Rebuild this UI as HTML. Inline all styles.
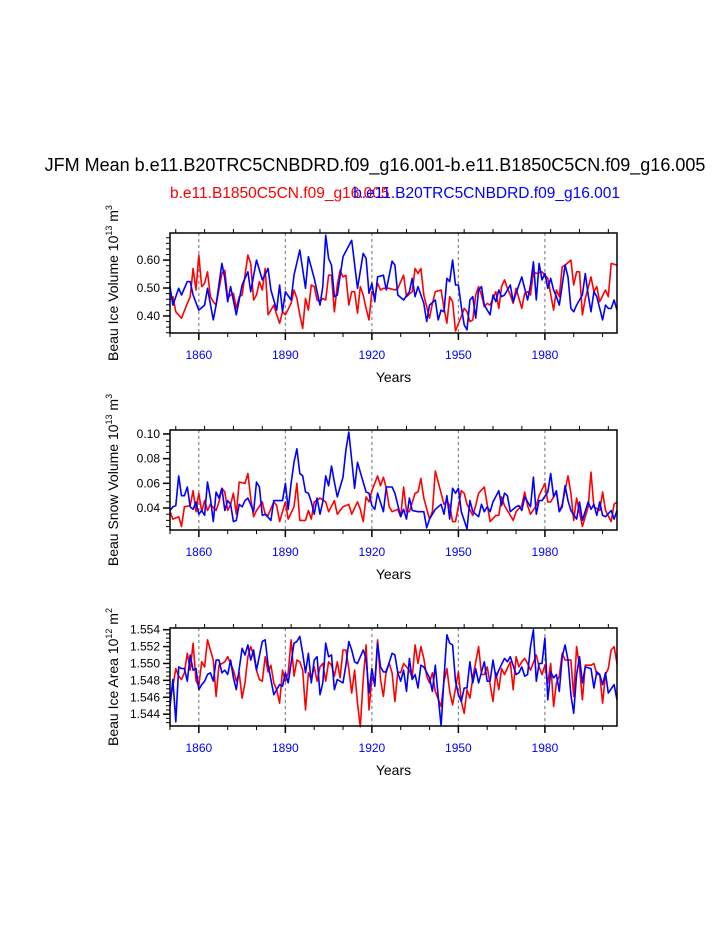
<!DOCTYPE html>
<html><head><meta charset="utf-8"><style>
html,body{margin:0;padding:0;background:#fff;}
svg{display:block;font-family:"Liberation Sans",Arial,sans-serif;}
</style></head><body>
<svg id="chart" width="723" height="935" viewBox="0 0 723 935" xmlns="http://www.w3.org/2000/svg">
<text x="375" y="171" font-size="18" text-anchor="middle">JFM Mean b.e11.B20TRC5CNBDRD.f09_g16.001-b.e11.B1850C5CN.f09_g16.005</text>
<text x="170" y="198" font-size="15.5" fill="#ff0000">b.e11.B1850C5CN.f09_g16.005</text>
<text x="620" y="198" font-size="15.5" fill="#0000ff" text-anchor="end">b.e11.B20TRC5CNBDRD.f09_g16.001</text>
<g id="plots"></g>
</svg>
<script>
// Panel 1: Beau Ice Volume
const p1BlueYears=[1850,1851,1853,1854,1856,1857,1858,1860,1862,1863,1865,1866,1868,1869,1870,1871,1873,1875,1877,1878,1880,1882,1884,1885,1887,1888,1889,1890,1892,1893,1895,1897,1898,1900,1902,1903,1904,1905,1906,1907,1908,1910,1913,1915,1917,1918,1919,1920,1921,1922,1924,1925,1927,1928,1929,1931,1933,1934,1935,1936,1938,1939,1940,1942,1943,1944,1945,1946,1947,1948,1949,1950,1951,1952,1953,1954,1955,1956,1957,1958,1959,1961,1962,1963,1964,1965,1966,1968,1969,1971,1972,1974,1975,1976,1977,1978,1979,1980,1981,1982,1983,1984,1985,1987,1988,1989,1990,1991,1993,1994,1995,1996,1997,1998,2000,2001,2002,2003,2004,2005];
const p1BlueVals=[0.505,0.439,0.499,0.475,0.523,0.523,0.475,0.421,0.439,0.499,0.386,0.439,0.588,0.535,0.451,0.505,0.404,0.511,0.558,0.487,0.600,0.529,0.570,0.493,0.421,0.511,0.415,0.487,0.457,0.546,0.636,0.499,0.612,0.535,0.439,0.505,0.689,0.606,0.582,0.469,0.475,0.612,0.671,0.499,0.624,0.606,0.481,0.517,0.451,0.540,0.546,0.493,0.596,0.582,0.475,0.457,0.487,0.535,0.469,0.505,0.445,0.380,0.439,0.457,0.386,0.421,0.415,0.535,0.523,0.600,0.511,0.511,0.433,0.368,0.350,0.457,0.469,0.392,0.493,0.505,0.439,0.404,0.475,0.451,0.493,0.469,0.475,0.511,0.451,0.511,0.540,0.457,0.511,0.594,0.457,0.588,0.529,0.552,0.499,0.535,0.493,0.469,0.439,0.582,0.540,0.427,0.415,0.439,0.475,0.552,0.475,0.415,0.487,0.469,0.386,0.439,0.427,0.427,0.457,0.421];
const p1RedYears=[1850,1851,1852,1854,1856,1857,1858,1859,1860,1861,1862,1863,1864,1865,1866,1868,1869,1870,1871,1872,1873,1874,1875,1876,1877,1878,1879,1880,1881,1882,1883,1884,1885,1886,1887,1888,1889,1890,1892,1893,1894,1895,1896,1897,1898,1899,1900,1901,1902,1903,1904,1905,1906,1907,1908,1909,1910,1911,1912,1913,1914,1915,1916,1917,1918,1919,1920,1921,1922,1923,1924,1926,1928,1929,1931,1932,1934,1935,1936,1937,1938,1940,1941,1942,1944,1945,1946,1947,1948,1949,1951,1952,1953,1954,1955,1956,1957,1958,1959,1960,1961,1963,1964,1965,1966,1967,1968,1969,1970,1972,1973,1974,1975,1976,1977,1979,1980,1981,1983,1984,1985,1986,1987,1989,1990,1991,1992,1993,1994,1996,1997,1998,1999,2001,2002,2003,2005];
const p1RedVals=[0.457,0.469,0.415,0.392,0.445,0.469,0.570,0.493,0.618,0.505,0.517,0.558,0.469,0.451,0.439,0.552,0.564,0.463,0.475,0.481,0.427,0.469,0.475,0.546,0.618,0.588,0.457,0.475,0.523,0.493,0.570,0.404,0.421,0.439,0.404,0.374,0.415,0.404,0.445,0.493,0.463,0.404,0.356,0.463,0.421,0.511,0.505,0.457,0.451,0.463,0.457,0.546,0.546,0.415,0.511,0.564,0.540,0.546,0.439,0.487,0.487,0.410,0.505,0.475,0.427,0.386,0.487,0.469,0.517,0.493,0.499,0.499,0.493,0.499,0.546,0.469,0.487,0.570,0.552,0.570,0.475,0.392,0.445,0.487,0.493,0.427,0.374,0.469,0.451,0.346,0.398,0.427,0.415,0.380,0.386,0.475,0.505,0.475,0.433,0.445,0.439,0.487,0.427,0.505,0.529,0.499,0.475,0.445,0.499,0.427,0.481,0.487,0.475,0.558,0.552,0.558,0.546,0.535,0.421,0.493,0.469,0.576,0.582,0.600,0.511,0.558,0.558,0.404,0.463,0.540,0.487,0.505,0.451,0.493,0.469,0.588,0.582];
// Panel 2: Beau Snow Volume
const p2BlueYears=[1850,1851,1852,1853,1854,1855,1856,1857,1858,1859,1860,1861,1862,1863,1864,1865,1866,1867,1868,1869,1870,1871,1872,1873,1874,1875,1876,1877,1879,1880,1881,1882,1883,1885,1886,1888,1889,1890,1891,1892,1893,1894,1895,1896,1897,1898,1899,1900,1901,1902,1903,1904,1905,1906,1907,1908,1910,1911,1912,1913,1914,1915,1916,1918,1919,1920,1921,1922,1924,1925,1927,1928,1930,1931,1932,1933,1934,1936,1938,1939,1940,1942,1944,1945,1946,1947,1948,1949,1950,1951,1952,1953,1954,1955,1957,1958,1959,1960,1961,1962,1964,1965,1966,1967,1968,1970,1971,1972,1973,1975,1976,1977,1978,1979,1981,1982,1983,1984,1985,1986,1987,1988,1989,1991,1992,1993,1995,1996,1997,1998,1999,2000,2001,2003,2004,2005];
const p2BlueVals=[0.038,0.041,0.042,0.066,0.050,0.050,0.057,0.041,0.039,0.045,0.035,0.038,0.034,0.061,0.048,0.029,0.053,0.048,0.056,0.038,0.046,0.043,0.029,0.030,0.043,0.041,0.046,0.048,0.037,0.061,0.057,0.034,0.035,0.030,0.046,0.046,0.046,0.060,0.039,0.060,0.077,0.088,0.068,0.066,0.053,0.052,0.045,0.035,0.048,0.035,0.045,0.066,0.058,0.074,0.061,0.049,0.065,0.087,0.1015,0.079,0.056,0.077,0.069,0.053,0.052,0.042,0.039,0.052,0.037,0.057,0.057,0.052,0.033,0.039,0.031,0.048,0.038,0.037,0.037,0.024,0.031,0.039,0.043,0.035,0.050,0.031,0.056,0.052,0.056,0.037,0.030,0.023,0.046,0.037,0.033,0.043,0.037,0.041,0.037,0.045,0.054,0.042,0.052,0.050,0.037,0.041,0.042,0.038,0.049,0.041,0.065,0.035,0.046,0.046,0.053,0.068,0.049,0.054,0.037,0.041,0.058,0.046,0.038,0.031,0.045,0.030,0.045,0.039,0.043,0.034,0.045,0.034,0.033,0.038,0.031,0.038];
const p2RedYears=[1850,1851,1853,1854,1855,1857,1858,1859,1860,1861,1862,1863,1864,1866,1867,1868,1869,1870,1871,1872,1873,1874,1876,1877,1878,1879,1880,1882,1883,1884,1886,1887,1888,1890,1891,1893,1894,1895,1897,1898,1899,1900,1902,1904,1905,1907,1908,1910,1912,1913,1915,1916,1917,1918,1919,1920,1922,1923,1924,1925,1926,1927,1929,1930,1931,1932,1933,1935,1936,1937,1938,1940,1941,1942,1943,1945,1946,1947,1948,1949,1951,1952,1953,1955,1956,1957,1959,1960,1961,1963,1964,1965,1966,1968,1969,1970,1972,1973,1974,1975,1977,1978,1980,1981,1982,1984,1985,1986,1988,1989,1990,1991,1993,1995,1996,1997,1999,2000,2001,2003,2004,2005];
const p2RedVals=[0.037,0.031,0.033,0.025,0.041,0.042,0.054,0.037,0.052,0.037,0.046,0.038,0.043,0.038,0.045,0.056,0.053,0.038,0.043,0.052,0.035,0.061,0.060,0.068,0.048,0.033,0.038,0.045,0.035,0.034,0.045,0.042,0.029,0.045,0.031,0.041,0.060,0.030,0.030,0.038,0.031,0.045,0.048,0.045,0.037,0.046,0.035,0.041,0.043,0.035,0.045,0.039,0.029,0.049,0.045,0.054,0.066,0.058,0.065,0.056,0.041,0.037,0.039,0.033,0.057,0.037,0.037,0.052,0.053,0.064,0.048,0.031,0.037,0.070,0.061,0.043,0.046,0.042,0.029,0.029,0.054,0.052,0.043,0.034,0.042,0.052,0.057,0.043,0.029,0.034,0.034,0.049,0.042,0.034,0.030,0.037,0.042,0.053,0.042,0.035,0.042,0.050,0.060,0.045,0.045,0.053,0.037,0.043,0.066,0.052,0.030,0.048,0.025,0.041,0.069,0.041,0.038,0.053,0.038,0.029,0.043,0.045];
// Panel 3: Beau Ice Area
const p3BlueYears=[1850,1851,1852,1853,1854,1855,1856,1857,1858,1859,1860,1861,1862,1863,1864,1865,1866,1867,1868,1869,1870,1871,1872,1873,1875,1876,1877,1878,1879,1880,1882,1883,1884,1885,1886,1888,1889,1890,1891,1893,1894,1895,1896,1897,1898,1899,1900,1901,1902,1903,1904,1905,1906,1907,1908,1910,1911,1912,1913,1914,1915,1917,1918,1919,1920,1921,1922,1923,1924,1925,1927,1928,1929,1930,1931,1932,1933,1934,1935,1936,1937,1938,1940,1941,1942,1943,1944,1945,1946,1947,1948,1949,1950,1951,1952,1953,1954,1955,1956,1957,1959,1960,1961,1962,1963,1964,1966,1967,1968,1970,1971,1972,1973,1974,1975,1976,1977,1978,1979,1980,1981,1982,1983,1984,1985,1986,1987,1988,1989,1990,1991,1992,1993,1994,1996,1997,1998,1999,2000,2001,2002,2004,2005];
const p3BlueVals=[1.5449,1.5481,1.5431,1.5496,1.5494,1.5494,1.5479,1.5510,1.5492,1.5494,1.5469,1.5475,1.5479,1.5487,1.5489,1.5479,1.5504,1.5504,1.5489,1.5492,1.5487,1.5504,1.5483,1.5469,1.5518,1.5510,1.5522,1.5504,1.5516,1.5492,1.5526,1.5528,1.5498,1.5481,1.5463,1.5475,1.5473,1.5489,1.5477,1.5524,1.5526,1.5532,1.5512,1.5489,1.5512,1.5477,1.5504,1.5508,1.5463,1.5477,1.5524,1.5508,1.5510,1.5469,1.5481,1.5477,1.5498,1.5526,1.5516,1.5502,1.5500,1.5516,1.5506,1.5465,1.5494,1.5473,1.5524,1.5496,1.5490,1.5490,1.5512,1.5510,1.5489,1.5479,1.5492,1.5467,1.5506,1.5481,1.5487,1.5471,1.5498,1.5496,1.5483,1.5467,1.5498,1.5461,1.5426,1.5483,1.5534,1.5524,1.5522,1.5479,1.5463,1.5455,1.5471,1.5471,1.5502,1.5477,1.5494,1.5477,1.5502,1.5479,1.5479,1.5504,1.5483,1.5492,1.5506,1.5502,1.5508,1.5487,1.5489,1.5496,1.5485,1.5487,1.5520,1.5540,1.5479,1.5500,1.5500,1.5530,1.5457,1.5490,1.5483,1.5487,1.5467,1.5508,1.5522,1.5504,1.5463,1.5441,1.5487,1.5508,1.5477,1.5496,1.5494,1.5471,1.5490,1.5487,1.5475,1.5489,1.5465,1.5475,1.5457];
const p3RedYears=[1850,1851,1852,1853,1854,1855,1856,1857,1858,1859,1860,1861,1862,1863,1864,1865,1866,1867,1868,1869,1870,1871,1872,1873,1874,1875,1876,1877,1878,1879,1880,1881,1882,1883,1884,1885,1886,1887,1888,1889,1890,1891,1892,1893,1894,1895,1896,1897,1898,1899,1900,1901,1902,1903,1904,1905,1906,1907,1908,1909,1910,1911,1912,1913,1914,1915,1916,1917,1918,1919,1920,1921,1922,1923,1924,1925,1926,1927,1928,1929,1930,1931,1932,1933,1934,1935,1936,1937,1938,1939,1940,1941,1942,1944,1945,1946,1947,1948,1950,1951,1952,1953,1954,1955,1957,1958,1959,1960,1962,1963,1964,1965,1966,1968,1969,1970,1971,1972,1973,1974,1975,1977,1978,1979,1980,1981,1982,1983,1984,1985,1986,1987,1989,1990,1991,1992,1993,1994,1996,1997,1998,1999,2000,2001,2002,2003,2004,2005];
const p3RedVals=[1.5457,1.5473,1.5494,1.5485,1.5481,1.5489,1.5512,1.5492,1.5524,1.5480,1.5473,1.5502,1.5496,1.5528,1.5516,1.5504,1.5461,1.5498,1.5500,1.5502,1.5508,1.5500,1.5492,1.5479,1.5489,1.5459,1.5477,1.5508,1.5520,1.5510,1.5492,1.5481,1.5479,1.5508,1.5490,1.5498,1.5477,1.5469,1.5453,1.5492,1.5479,1.5489,1.5528,1.5485,1.5504,1.5502,1.5492,1.5445,1.5489,1.5481,1.5496,1.5479,1.5496,1.5500,1.5479,1.5502,1.5498,1.5485,1.5502,1.5483,1.5516,1.5516,1.5494,1.5465,1.5492,1.5453,1.5425,1.5481,1.5522,1.5445,1.5483,1.5477,1.5528,1.5481,1.5461,1.5492,1.5500,1.5489,1.5455,1.5490,1.5489,1.5500,1.5496,1.5492,1.5483,1.5522,1.5500,1.5520,1.5506,1.5485,1.5477,1.5489,1.5467,1.5449,1.5479,1.5494,1.5467,1.5451,1.5490,1.5455,1.5441,1.5469,1.5459,1.5483,1.5520,1.5487,1.5487,1.5496,1.5455,1.5489,1.5469,1.5494,1.5487,1.5502,1.5469,1.5508,1.5496,1.5502,1.5506,1.5500,1.5492,1.5510,1.5496,1.5487,1.5498,1.5477,1.5500,1.5449,1.5477,1.5485,1.5512,1.5504,1.5504,1.5461,1.5520,1.5496,1.5457,1.5498,1.5498,1.5500,1.5487,1.5487,1.5453,1.5487,1.5494,1.5516,1.5520,1.5500];

const bottomTicks=[1860,1890,1920,1950,1980];
const topTicks=[420,450,480,510,540];
const p1YTicks=[0.40,0.50,0.60];
const p2YTicks=[0.04,0.06,0.08,0.10];
const p3YTicks=[1.544,1.546,1.548,1.550,1.552,1.554];

const NS='http://www.w3.org/2000/svg';
const root=document.getElementById('plots');
function mk(tag,attrs,parent){const e=document.createElementNS(NS,tag);for(const k in attrs)e.setAttribute(k,attrs[k]);(parent||root).appendChild(e);return e;}
const X0=170,X1=617,YR0=1850,YR1=2005,TOPOFF=1448;
function xs(yr){return X0+(yr-YR0)*(X1-X0)/(YR1-YR0);}

const panels=[
 {key:'ice-volume',top:233,bot:333,ymin:0.339,ymax:0.697,ticks:p1YTicks,dec:2,minor:0.02,title:'Beau Ice Volume 10',exp1:'13',unit:' m',exp2:'3',blueY:p1BlueYears,blueV:p1BlueVals,redY:p1RedYears,redV:p1RedVals},
 {key:'snow-volume',top:430,bot:530,ymin:0.0222,ymax:0.1032,ticks:p2YTicks,dec:2,minor:0.005,title:'Beau Snow Volume 10',exp1:'13',unit:' m',exp2:'3',blueY:p2BlueYears,blueV:p2BlueVals,redY:p2RedYears,redV:p2RedVals},
 {key:'ice-area',top:628,bot:726,ymin:1.5426,ymax:1.5542,ticks:p3YTicks,dec:3,minor:0.0005,title:'Beau Ice Area 10',exp1:'12',unit:' m',exp2:'2',blueY:p3BlueYears,blueV:p3BlueVals,redY:p3RedYears,redV:p3RedVals}
];

panels.forEach(p=>{
 const g=mk('g',{});
 
 
 const ys=v=>p.bot-(v-p.ymin)*(p.bot-p.top)/(p.ymax-p.ymin);
 bottomTicks.forEach(t=>{
  const l=mk('line',{x1:xs(t),x2:xs(t),y1:p.top,y2:p.bot,stroke:'#888','stroke-width':1.2,'stroke-dasharray':'3,3'},g);
  
  
 });
 [['red',p.redY,p.redV,'#ff0000'],['blue',p.blueY,p.blueV,'#0000ff']].forEach(s=>{
  const d=s[1].map((yr,i)=>(i?'L':'M')+xs(yr).toFixed(1)+','+ys(s[2][i]).toFixed(1)).join('');
  const path=mk('path',{d:d,fill:'none',stroke:s[3],'stroke-width':1.6,'stroke-linejoin':'round'},g);
  
  
 });
 const fr=mk('rect',{x:X0,y:p.top,width:X1-X0,height:p.bot-p.top,fill:'none',stroke:'#000','stroke-width':1.5},g);
 
 
 for(let yr=1850;yr<=2005;yr+=10){
  const x=xs(yr),major=bottomTicks.includes(yr);const L=major?7:4;
  mk('line',{x1:x,x2:x,y1:p.bot,y2:p.bot+L,stroke:'#000','stroke-width':major?1.5:1},g);
 }
 for(let yr=1852;yr<=2005;yr+=10){
  const x=xs(yr),major=topTicks.includes(yr+TOPOFF);const L=major?7:4;
  mk('line',{x1:x,x2:x,y1:p.top,y2:p.top-L,stroke:'#000','stroke-width':major?1.5:1},g);
 }
 bottomTicks.forEach(t=>{
  const tx=mk('text',{x:xs(t),y:p.bot+26,'font-size':12,'text-anchor':'middle',fill:'#0000ff'},g);
  tx.textContent=t;
  
  
 });
 topTicks.forEach(t=>{
  const tx=mk('text',{x:xs(t-TOPOFF),y:p.top-16,'font-size':12,'text-anchor':'middle',fill:'#ff0000'},g);
  tx.textContent=t;
  
  
 });
 for(let v=Math.ceil(p.ymin/p.minor)*p.minor;v<=p.ymax;v+=p.minor){
  const y=ys(v);mk('line',{x1:X0,x2:X0-4,y1:y,y2:y,stroke:'#000','stroke-width':1},g);
 }
 p.ticks.forEach(t=>{
  const y=ys(t);
  mk('line',{x1:X0,x2:X0-7,y1:y,y2:y,stroke:'#000','stroke-width':1.5},g);
  const tx=mk('text',{x:X0-10,y:y+4,'font-size':12,'text-anchor':'end'},g);
  tx.textContent=t.toFixed(p.dec);
  
  
 });
 const xt=mk('text',{x:(X0+X1)/2,y:p.bot+49,'font-size':14,'text-anchor':'middle'},g);
 xt.textContent='Years';
 
 
 const cy=(p.top+p.bot)/2;
 const yt=mk('text',{x:0,y:0,'font-size':14,'text-anchor':'middle',transform:'translate(118,'+cy+') rotate(-90)'},g);
 
 
 const t1=mk('tspan',{},yt);t1.textContent=p.title;
 const t2=mk('tspan',{dy:-6,'font-size':9},yt);t2.textContent=p.exp1;
 const t3=mk('tspan',{dy:6},yt);t3.textContent=p.unit;
 const t4=mk('tspan',{dy:-6,'font-size':9},yt);t4.textContent=p.exp2;
});
</script>
</body></html>
